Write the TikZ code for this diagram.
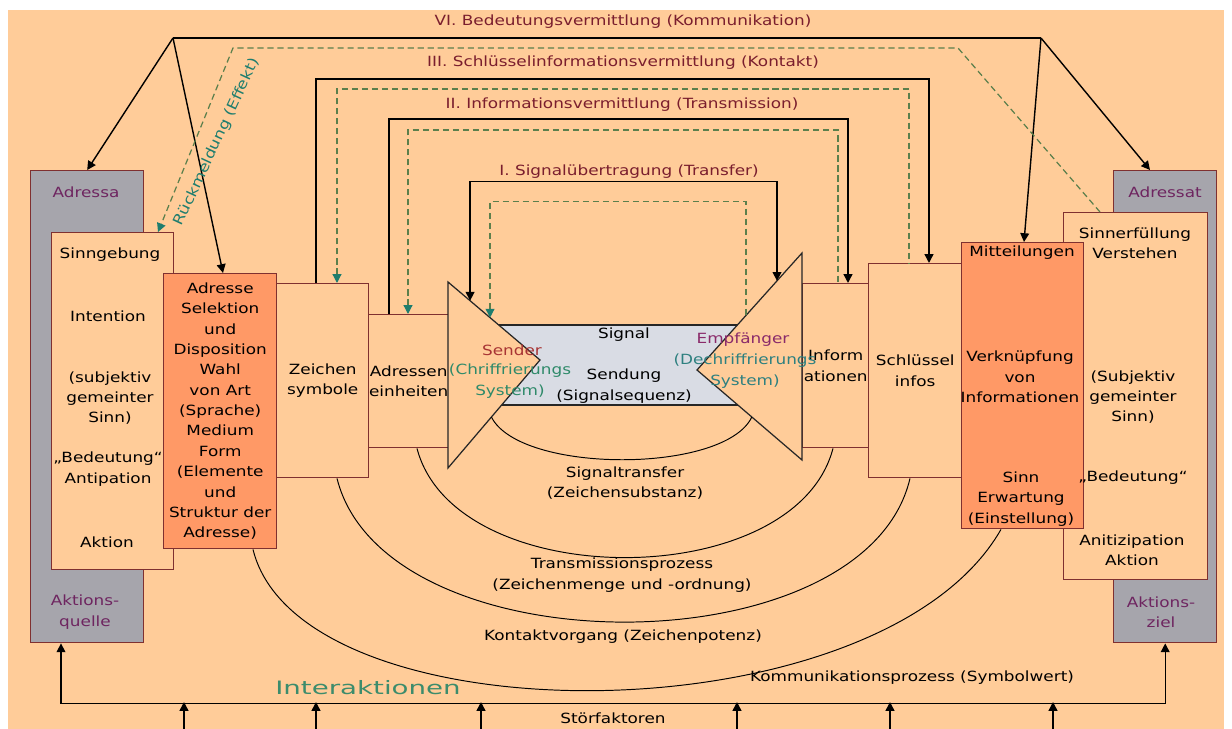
\documentclass[tikz,border=0pt]{standalone}
\usepackage{fontspec}
\setmainfont[FakeStretch=1.2]{DejaVu Sans}
\newfontfamily\wfont[FakeStretch=1.5]{DejaVu Sans}
\usepackage{xcolor}
\usetikzlibrary{shapes,arrows.meta,positioning,calc}

\definecolor{peach}{HTML}{FFCC99}
\definecolor{salmon}{HTML}{FF9966}
\definecolor{greybox}{HTML}{A6A5AC}
\definecolor{sigfill}{HTML}{D9DCE4}
\definecolor{rim}{HTML}{7F3030}
\definecolor{lvlred}{HTML}{7A1E2E}
\definecolor{lilac}{HTML}{6E2560}
\definecolor{fbgreen}{HTML}{5B7F4C}
\definecolor{fbteal}{HTML}{1E7D6E}
\definecolor{sendred}{HTML}{A83434}
\definecolor{recvlila}{HTML}{8A2A6A}
\definecolor{codegreen}{HTML}{2F8A6A}
\definecolor{codeteal}{HTML}{2E8080}
\definecolor{interg}{HTML}{3C8C6C}

\tikzset{
  txt/.style={font=\fontsize{8}{11.6}\selectfont, inner sep=0pt, align=center},
  sz/.style 2 args={minimum width=#1*0.02cm, minimum height=#2*0.02cm},
  box/.style={txt, draw=rim, line width=0.8pt, fill=peach, anchor=north west},
  conn/.style={draw=black, line width=0.8pt},
  fb/.style={draw=fbgreen, line width=0.7pt, dash pattern=on 3.5pt off 2.2pt},
  dstart/.style={{Triangle[length=5pt,width=5pt,color=fbteal]}-},
  dend/.style={-{Triangle[length=5pt,width=5pt,color=fbteal]}},
  arcl/.style={draw=black, line width=0.55pt},
  tri/.style={draw=black!85, fill=peach, line width=0.7pt}
}

\begin{document}
\begin{tikzpicture}[x=0.02cm, y=-0.02cm, >={Triangle[length=5pt,width=5pt]}]
\useasboundingbox (0,0) rectangle (1232,729);
\fill[peach] (8,10) rectangle (1224,729);

\node[box, fill=greybox, sz={113}{472}] (adressa) at (30,170) {};
\node[box, sz={122}{337}] (sinngeb) at (51,232) {};
\node[box, fill=salmon, sz={113}{275}] (adresse) at (163,273)
  {Adresse\\Selektion\\und\\Disposition\\Wahl\\von Art\\(Sprache)\\Medium\\Form\\(Elemente\\und\\Struktur der\\Adresse)};
\node[box, sz={92}{194}] (zeichen) at (276,283) {Zeichen\\symbole};
\node[box, sz={80}{133}] (adressen) at (368,314) {Adressen\\einheiten};
\node[box, sz={66}{164}] (inform) at (802,283) {Inform\\ationen};
\node[box, sz={93}{214}] (schluessel) at (868,263) {Schlüssel\\infos};
\node[box, fill=greybox, sz={103}{472}] (adressat) at (1113,170) {};
\node[box, sz={144}{367}] (sinnerf) at (1063,212) {};
\node[box, fill=salmon, sz={122}{286}] (mitteil) at (961,242) {};

\node[draw=black!85, fill=sigfill, line width=0.7pt, sz={290}{80}] (signal) at (620,365) {};
\coordinate (sT) at (448,282);
\coordinate (sA) at (540,360);
\coordinate (sB) at (448,468);
\coordinate (rT) at (802,253);
\coordinate (rA) at (697,370);
\coordinate (rB) at (802,460);
\draw[tri] (sT) -- (sA) -- (sB) -- cycle;
\draw[tri] (rT) -- (rA) -- (rB) -- cycle;

\coordinate (apexL) at (173,38);
\coordinate (apexR) at (1041,38);
\draw[conn] (apexL) -- (apexR);
\draw[conn,->] (apexL) -- (adressa.north);
\draw[conn,->] (apexL) -- ($(adresse.north west)+(60,0)$);
\draw[conn,->] (apexR) -- ($(mitteil.north west)+(63,0)$);
\draw[conn,->] (apexR) -- ($(adressat.north west)+(37,0)$);

\coordinate (fbR) at (958,48);
\coordinate (fbL) at (233,48);
\draw[fb,dend] ($(sinnerf.north west)+(37,0)$) -- (fbR) -- (fbL) -- ($(sinngeb.north west)+(107,0)$);

\draw[conn,->] ($(zeichen.north west)+(40,0)$) -- ++(0,-204) -| ($(schluessel.north west)+(61,0)$);
\draw[fb,dstart] ($(zeichen.north west)+(61,0)$) -- ++(0,-194) -| ($(schluessel.north west)+(41,0)$);
\draw[conn,->] ($(adressen.north west)+(21,0)$) -- ++(0,-195) -| ($(inform.north west)+(46,0)$);
\draw[fb,dstart] ($(adressen.north west)+(40,0)$) -- ++(0,-184) -| ($(inform.north west)+(36,0)$);
\coordinate (sIn) at ($(sT)!0.24!(sA)$);
\coordinate (rIn) at ($(rT)!0.238!(rA)$);
\coordinate (sDash) at ($(sT)!0.457!(sA)$);
\coordinate (rDash) at ($(rT)!0.533!(rA)$);
\draw[conn,<->] (sIn) -- ++(0,-119) -| (rIn);
\draw[fb,dstart] (sDash) -- ++(0,-116) -| (rDash);

\coordinate (stL) at ($(sA)!0.528!(sB)$);
\coordinate (stR) at ($(rA)!0.522!(rB)$);
\coordinate (tpL) at ($(adressen.south west)+(49,0)$);
\coordinate (tpR) at ($(inform.south west)+(31,0)$);
\coordinate (kvL) at ($(zeichen.south west)+(61,0)$);
\coordinate (kvR) at ($(schluessel.south west)+(42,0)$);
\coordinate (kpL) at ($(adresse.south west)+(90,0)$);
\coordinate (kpR) at ($(mitteil.south west)+(40,0)$);
\draw[arcl] (stL) .. controls (520,474) and (725,474) .. (stR);
\draw[arcl] (tpL) .. controls (455,594) and (795,594) .. (tpR);
\draw[arcl] (kvL) .. controls (385,670) and (865,670) .. (kvR);
\draw[arcl] (kpL) .. controls (300,741) and (880,741) .. (kpR);

\draw[conn,<->] ($(adressa.south west)+(31,0)$) -- ++(0,60) -| (adressat.south);
\foreach \x in {184,316,481,737,890,1053} {
  \coordinate (sf) at (\x,729);
  \draw[conn,->] (sf) -- ++(0,-27);
}

\node[txt, text=lvlred] (lvVI) at (623,22) {VI. Bedeutungsvermittlung (Kommunikation)};
\node[txt, text=lvlred] (lvIII) at (623,63) {III. Schlüsselinformationsvermittlung (Kontakt)};
\node[txt, text=lvlred] (lvII) at (622,105) {II. Informationsvermittlung (Transmission)};
\node[txt, text=lvlred] (lvI) at (629,172) {I. Signalübertragung (Transfer)};
\node[txt, text=fbteal, rotate=65] (rueck) at (217,142) {Rückmeldung (Effekt)};

\node[txt, text=lilac] (tAdressa) at (86,192) {Adressa};
\node[txt, text=lilac] (tQuelle) at (85,612) {Aktions-\\quelle};
\node[txt] (tSinn) at (110,255) {Sinngebung};
\node[txt] (tInt) at (108,316) {Intention};
\node[txt] (tSubj) at (110,398) {(subjektiv\\gemeinter\\Sinn)};
\node[txt] (tBed) at (108,469) {„Bedeutung“\\Antipation};
\node[txt] (tAkt) at (107,542) {Aktion};

\node[txt, text=lilac] (tAdressat) at (1165,192) {Adressat};
\node[txt, text=lilac] (tZiel) at (1161,612) {Aktions-\\ziel};
\node[txt] (tErf) at (1135,243) {Sinnerfüllung\\Verstehen};
\node[txt] (tSubj2) at (1133,397) {(Subjektiv\\gemeinter\\Sinn)};
\node[txt] (tBed2) at (1133,478) {„Bedeutung“};
\node[txt] (tAnt) at (1132,550) {Anitizipation\\Aktion};
\node[txt] (tMitt) at (1022,253) {Mitteilungen};
\node[txt] (tVerk) at (1020,377) {Verknüpfung\\von\\Informationen};
\node[txt] (tErw) at (1021,499) {Sinn\\Erwartung\\(Einstellung)};

\node[txt, text=sendred] (tSender) at (512,350) {Sender};
\node[txt, text=codegreen] (tChiff) at (510,381) {(Chriffrierungs\\System)};
\node[txt] (tSignal) at (624,335) {Signal};
\node[txt] (tSendung) at (624,386) {Sendung\\(Signalsequenz)};
\node[txt, text=recvlila] (tEmpf) at (743,340) {Empfänger};
\node[txt, text=codeteal] (tDech) at (745,371) {(Dechriffrierungs\\System)};

\node[txt] (lbSig) at (625,483) {Signaltransfer\\(Zeichensubstanz)};
\node[txt] (lbTrans) at (622,575) {Transmissionsprozess\\(Zeichenmenge und -ordnung)};
\node[txt] (lbKont) at (623,637) {Kontaktvorgang (Zeichenpotenz)};
\node[txt] (lbKomm) at (912,678) {Kommunikationsprozess (Symbolwert)};
\node[txt, font=\wfont\fontsize{10.5}{12}\selectfont, text=interg] (interakt) at (368,688) {Interaktionen};
\node[txt] (stoer) at (613,718) {Störfaktoren};
\end{tikzpicture}
\end{document}
